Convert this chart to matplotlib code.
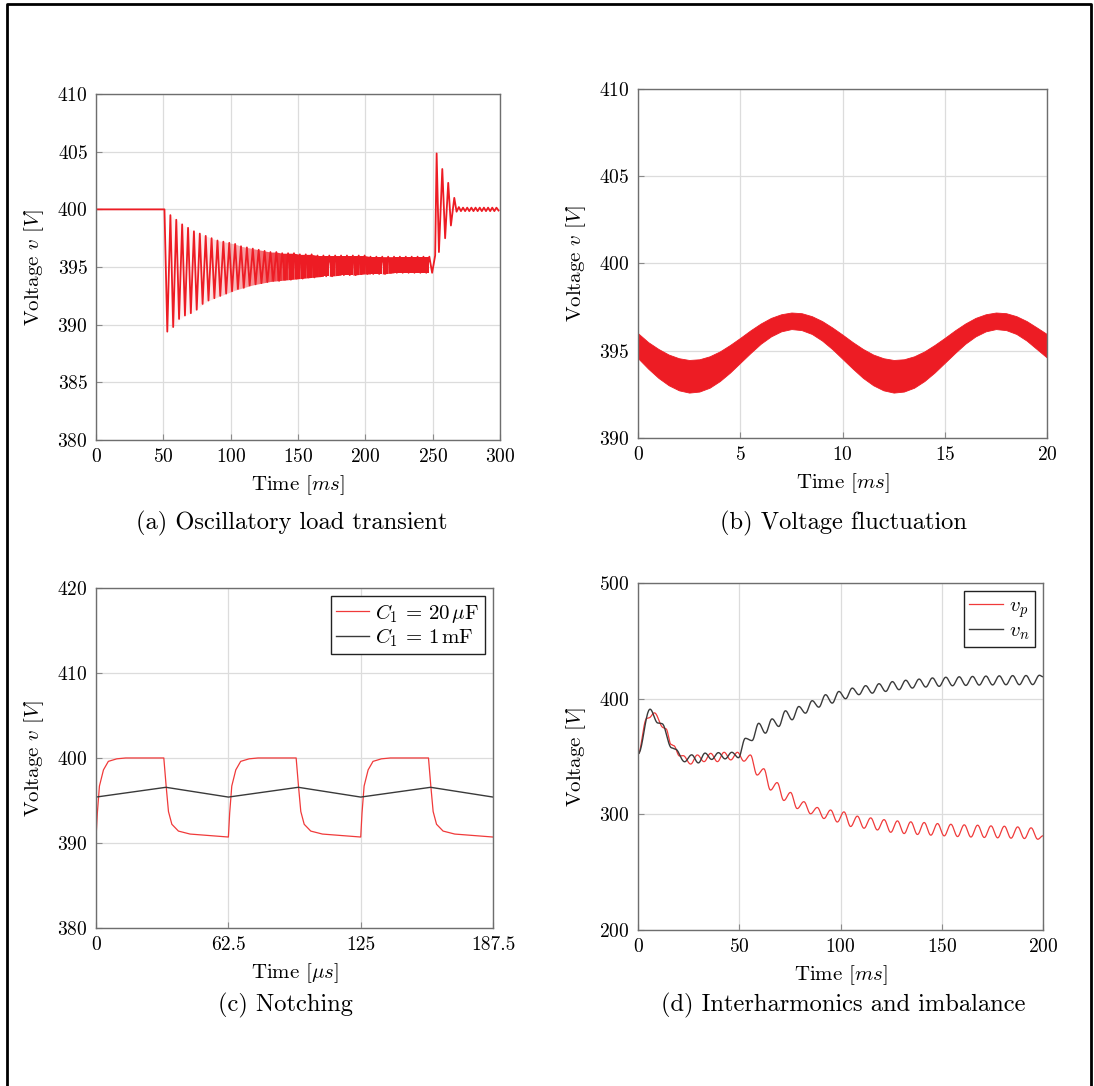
import numpy as np
import matplotlib
matplotlib.use('Agg')
import matplotlib.pyplot as plt
from matplotlib.lines import Line2D

# Computer Modern look, like the LaTeX original
plt.rcParams['font.family'] = 'serif'
plt.rcParams['font.serif'] = ['cmr10']
plt.rcParams['mathtext.fontset'] = 'cm'
plt.rcParams['axes.formatter.use_mathtext'] = True

RED = '#ed1c24'
LRED = '#f03a3a'
DARK = '#3a3a3a'

#------------------------------------------------------------------------------
# (a) Oscillatory load transient
a_flat_t = [0, 50.8]
a_flat_v = [400.0, 400.0]
a_period = 4.37
a_trough_t0 = 52.9
a_peak_t0 = 55.2
a_troughs = [389.4, 389.8, 390.5, 390.8, 391.0, 391.3, 391.8, 392.1, 392.3, 392.5,
             392.7, 392.9, 393.1, 393.2, 393.4, 393.5, 393.6, 393.7, 393.8, 393.8,
             393.9, 393.9, 394.0, 394.0, 394.1, 394.1, 394.2, 394.2, 394.2, 394.3,
             394.3, 394.3, 394.3, 394.4, 394.4, 394.4, 394.4, 394.4, 394.5, 394.5,
             394.5, 394.5, 394.5, 394.5, 394.5, 394.5]
a_peaks = [399.5, 399.1, 398.7, 398.4, 398.1, 397.9, 397.7, 397.5, 397.3, 397.2,
           397.1, 397.0, 396.8, 396.7, 396.6, 396.5, 396.4, 396.3, 396.3, 396.2,
           396.2, 396.2, 396.1, 396.1, 396.1, 396.0, 396.0, 396.0, 396.0, 396.0,
           396.0, 396.0, 396.0, 396.0, 395.9, 395.9, 395.9, 395.9, 395.9, 395.9,
           395.9, 395.9, 395.9, 395.9, 395.9]
a_step_t = [251.8, 252.9, 254.6, 257.1, 259.2, 261.5, 263.5, 266.0, 267.7]
a_step_v = [396.0, 404.85, 396.3, 403.5, 397.5, 402.3, 398.6, 401.0, 399.8]
a_ripple_t0 = 269.4
a_ripple_dt = 1.55
a_ripple_v = [400.2, 399.85, 400.15, 399.85, 400.15, 399.85, 400.15, 399.85,
              400.15, 399.85, 400.15, 399.85, 400.15, 399.85, 400.15, 399.85,
              400.15, 399.85, 400.15, 399.9]

#------------------------------------------------------------------------------
# (b) Voltage fluctuation: upper / lower edge of the red band
b_t = np.arange(0, 20.5, 0.5)
b_top = [396.0, 395.49, 395.10, 394.78, 394.57, 394.47, 394.51, 394.68, 394.96, 395.33,
         395.74, 396.17, 396.56, 396.88, 397.09, 397.19, 397.15, 396.98, 396.70, 396.33,
         395.92, 395.49, 395.10, 394.78, 394.57, 394.47, 394.51, 394.68, 394.96, 395.33,
         395.74, 396.17, 396.56, 396.88, 397.09, 397.19, 397.15, 396.98, 396.70, 396.33,
         395.95]
b_bot = [394.57, 393.97, 393.44, 393.02, 392.73, 392.60, 392.66, 392.88, 393.26, 393.75,
         394.31, 394.87, 395.40, 395.82, 396.11, 396.24, 396.18, 395.96, 395.58, 395.09,
         394.53, 393.97, 393.44, 393.02, 392.73, 392.60, 392.66, 392.88, 393.26, 393.75,
         394.31, 394.87, 395.40, 395.82, 396.11, 396.24, 396.18, 395.96, 395.58, 395.09,
         394.60]

#------------------------------------------------------------------------------
# (c) Notching: one 62.5 us period of each trace, repeated three times
c_period = 62.5
c_red_t = [0, 0.6, 1.6, 3.5, 5.8, 9.8, 14.0, 32.0, 33.1, 34.2, 35.8, 38.9, 44.4, 62.5]
c_red_v = [390.7, 393.5, 396.7, 398.6, 399.6, 399.9, 400.0, 400.0, 396.7, 393.7,
           392.2, 391.4, 391.05, 390.7]
c_blk_t = [0, 33.0, 62.5]
c_blk_v = [395.4, 396.55, 395.4]
c_xticks = [0, 62.5, 125, 187.5]
c_xlabels = ['0', '62.5', '125', '187.5']

#------------------------------------------------------------------------------
# (d) Interharmonics and imbalance: extremes of v_p and v_n
d_period = 6.6
vn_early_t = [0, 5.9, 9.8, 11.8, 16.6, 18.4, 23.0, 26.5, 29.8, 33.1, 36.4, 39.7, 43.0, 46.3, 49.6]
vn_early_v = [352, 391, 379, 378.5, 357.5, 356.5, 345.5, 351.5, 344.5, 353, 347.5, 353.4, 348, 353.7, 349]
vn_peak_t0 = 53.0
vn_peaks = [365.8, 378.8, 382.6, 389.6, 393.3, 398.3, 403.5, 406.3, 409.2, 411.3, 413.0,
            414.8, 416.0, 417.0, 418.0, 418.6, 419.0, 419.3, 419.6, 419.8, 420.0, 420.1, 420.3]
vn_trough_t0 = 56.3
vn_troughs = [363.8, 370.2, 376.0, 381.8, 387.5, 392.7, 396.2, 400.0, 403.5, 404.8, 406.3,
              407.8, 409.2, 410.1, 410.7, 411.2, 411.5, 411.8, 411.9, 412.1, 412.1, 412.2]
vn_end = 419.0

vp_early_t = [0, 4.3, 5.4, 8.1, 12.5, 13.8, 16.3, 17.6, 20.5, 22.3, 26.0, 29.3, 32.6, 35.9,
              39.2, 42.5, 45.8, 49.1, 52.3]
vp_early_v = [352, 383, 383.5, 387.8, 375, 374, 360.5, 359.5, 350.5, 350.8, 343.5, 351.4,
              345.6, 352.8, 345.6, 353.7, 347.1, 353.7, 346.0]
vp_peak_t0 = 55.5
vp_peaks = [351.4, 339.5, 327.5, 319.0, 311.0, 306.0, 303.8, 302.2, 298.5, 297.0, 295.5,
            294.4, 293.6, 293.0, 292.1, 291.5, 291.0, 290.7, 290.1, 289.8, 289.2, 288.4]
vp_trough_t0 = 58.8
vp_troughs = [334.0, 321.0, 312.0, 305.0, 300.5, 296.4, 293.4, 289.5, 288.0, 286.5, 284.5,
              283.4, 282.6, 282.0, 281.4, 280.8, 280.4, 280.0, 279.7, 279.4, 279.1, 278.5]
vp_end = 281.5


#------------------------------------------------------------------------------
def interleave(p_t0, peaks, q_t0, troughs, period):
    # put peak and trough extremes in time order
    t, v = [], []
    for k in range(max(len(peaks), len(troughs))):
        if k < len(peaks):
            t.append(p_t0 + k*period); v.append(peaks[k])
        if k < len(troughs):
            t.append(q_t0 + k*period); v.append(troughs[k])
    return t, v


def cos_smooth(t, v, n=10):
    # half-cosine between successive extremes so the ripple looks round
    tt, vv = [t[0]], [v[0]]
    u = np.linspace(0, 1, n + 1)[1:]
    for i in range(len(t) - 1):
        tt.extend(t[i] + u*(t[i+1] - t[i]))
        vv.extend(v[i] + (v[i+1] - v[i])*(1 - np.cos(np.pi*u))/2)
    return np.array(tt), np.array(vv)


def style(ax):
    ax.grid(True, color='#dcdcdc', lw=0.9)
    ax.set_axisbelow(True)
    for s in ax.spines.values():
        s.set_color('#6e6e6e')
        s.set_linewidth(1.0)
    ax.tick_params(direction='in', length=4, color='#8a8a8a', labelsize=14,
                   top=False, right=False, pad=6)


def legend(ax):
    leg = ax.legend(loc='upper right', fontsize=15, fancybox=False, framealpha=1,
                    edgecolor='#222222', handlelength=1.6, handletextpad=0.3,
                    borderpad=0.25, labelspacing=0.1, borderaxespad=0.4)
    leg.get_frame().set_linewidth(1.0)


fig = plt.figure(figsize=(10.94, 10.86), dpi=100)

#---------------------------------
# (a)
ax = fig.add_axes([0.0878, 0.5948, 0.3693, 0.3186])
style(ax)
# trough/peak sequence during the load step
a_osc_t, a_osc_v = interleave(a_trough_t0, a_troughs, a_peak_t0, a_peaks, a_period)
a_rip_t = [a_ripple_t0 + k*a_ripple_dt for k in range(len(a_ripple_v))]
a_t = list(a_flat_t) + a_osc_t + a_step_t + a_rip_t
a_v = list(a_flat_v) + a_osc_v + a_step_v + a_ripple_v
# shade the dense part of the oscillation (solid once it gets fast)
pk_t = [a_peak_t0 + k*a_period for k in range(len(a_peaks))]
lower = [0.5*(a_troughs[k] + a_troughs[k+1]) for k in range(len(a_peaks))]
for k in range(len(a_peaks) - 1):
    alpha = min(1.0, 0.05 + 0.95*max(0.0, (pk_t[k] - 70)/(140 - 70))**1.5)
    ax.fill_between(pk_t[k:k+2], a_peaks[k:k+2], lower[k:k+2], color=RED,
                    alpha=alpha, lw=0)
ax.plot(a_t, a_v, color=RED, lw=1.3)
ax.set_xlim(0, 300)
ax.set_ylim(380, 410)
ax.set_xticks(np.arange(0, 301, 50))
ax.set_yticks(np.arange(380, 411, 5))
ax.set_xlabel('Time [$ms$]', fontsize=15, labelpad=5)
ax.set_ylabel('Voltage $v$ [$V$]', fontsize=15, labelpad=8)

#---------------------------------
# (b)
ax = fig.add_axes([0.5832, 0.5967, 0.3739, 0.3214])
style(ax)
ax.fill_between(b_t, b_top, b_bot, color=RED, lw=0.6, edgecolor=RED)
ax.set_xlim(0, 20)
ax.set_ylim(390, 410)
ax.set_xticks(np.arange(0, 21, 5))
ax.set_yticks(np.arange(390, 411, 5))
ax.set_xlabel('Time [$ms$]', fontsize=15, labelpad=5)
ax.set_ylabel('Voltage $v$ [$V$]', fontsize=15, labelpad=8)

#---------------------------------
# (c)
ax = fig.add_axes([0.0878, 0.1455, 0.3629, 0.3131])
style(ax)
c_rt = np.concatenate([np.array(c_red_t) + k*c_period for k in range(3)])
c_rv = np.concatenate([c_red_v]*3)
c_bt = np.concatenate([np.array(c_blk_t) + k*c_period for k in range(3)])
c_bv = np.concatenate([c_blk_v]*3)
ax.plot(c_rt, c_rv, color=LRED, lw=0.9, label=r'$C_1 \,=\, 20\,\mu\mathrm{F}$')
ax.plot(c_bt, c_bv, color=DARK, lw=1.0, label=r'$C_1 \,=\, 1\,\mathrm{mF}$')
ax.set_xlim(0, 187.5)
ax.set_ylim(380, 420)
ax.set_xticks(c_xticks)
ax.set_xticklabels(c_xlabels)
ax.set_yticks(np.arange(380, 421, 10))
ax.set_xlabel(r'Time [$\mu s$]', fontsize=15, labelpad=5)
ax.set_ylabel('Voltage $v$ [$V$]', fontsize=15, labelpad=8)
legend(ax)

#---------------------------------
# (d)
ax = fig.add_axes([0.5832, 0.1436, 0.3702, 0.3195])
style(ax)
t1, v1 = interleave(vn_peak_t0, vn_peaks, vn_trough_t0, vn_troughs, d_period)
vn_t, vn_v = cos_smooth(vn_early_t + t1 + [200], vn_early_v + v1 + [vn_end])
t2, v2 = interleave(vp_peak_t0, vp_peaks, vp_trough_t0, vp_troughs, d_period)
vp_t, vp_v = cos_smooth(vp_early_t + t2 + [200], vp_early_v + v2 + [vp_end])
ax.plot(vp_t, vp_v, color=LRED, lw=0.9, label='$v_p$')
ax.plot(vn_t, vn_v, color=DARK, lw=1.0, label='$v_n$')
ax.set_xlim(0, 200)
ax.set_ylim(200, 500)
ax.set_xticks(np.arange(0, 201, 50))
ax.set_yticks(np.arange(200, 501, 100))
ax.set_xlabel('Time [$ms$]', fontsize=15, labelpad=5)
ax.set_ylabel('Voltage [$V$]', fontsize=15, labelpad=8)
legend(ax)

#---------------------------------
# sub captions
fig.text(0.267, 0.518, '(a) Oscillatory load transient', fontsize=17.6, ha='center', va='center')
fig.text(0.771, 0.518, '(b) Voltage fluctuation', fontsize=17.6, ha='center', va='center')
fig.text(0.261, 0.0746, '(c) Notching', fontsize=17.6, ha='center', va='center')
fig.text(0.771, 0.0746, '(d) Interharmonics and imbalance', fontsize=17.6, ha='center', va='center')

# black frame around the figure (left, top, right)
W, H = 1094.0, 1086.0
fig.add_artist(Line2D([6.5/W, 6.5/W, 1091/W, 1091/W], [0, 1 - 3.5/H, 1 - 3.5/H, 0],
                      transform=fig.transFigure, color='black', lw=2.0))

fig.savefig('out.png', dpi=100)
